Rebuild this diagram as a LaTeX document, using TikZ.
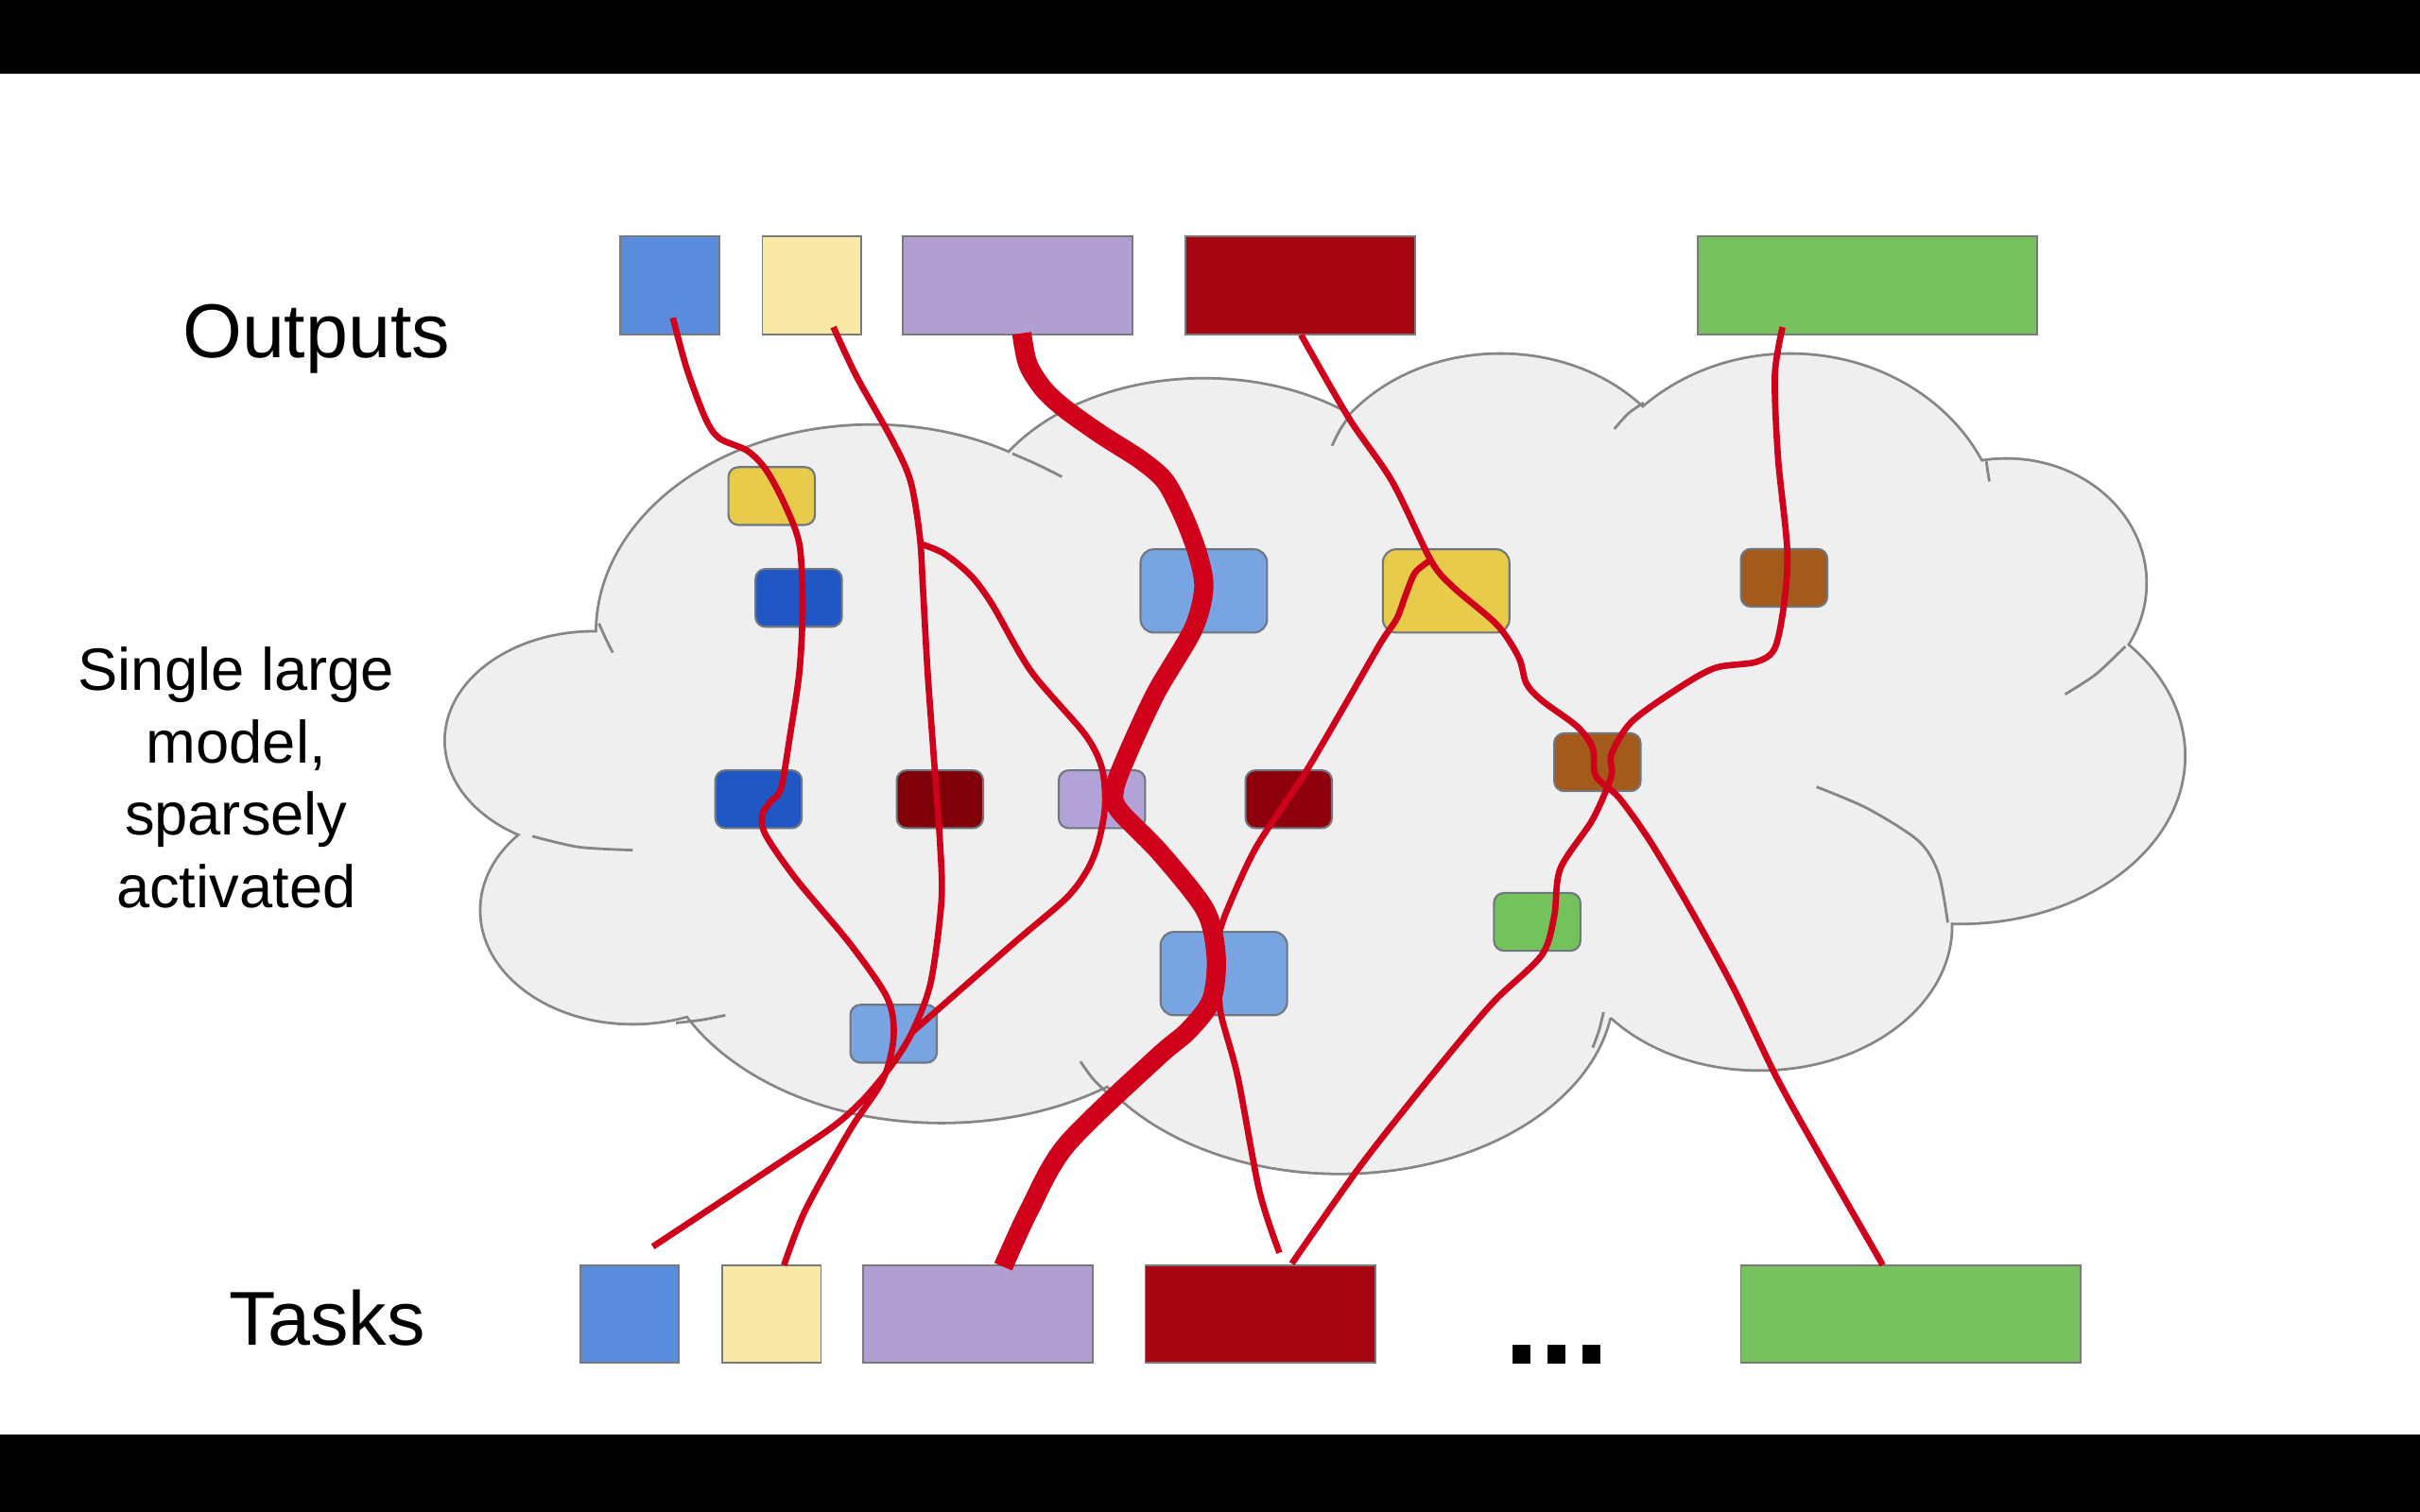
\documentclass[tikz,border=0pt]{standalone}
\usepackage{fontspec}
\setmainfont{Liberation Sans}
\usetikzlibrary{positioning, calc}

\newcommand{\pu}{0.0163265cm}

\definecolor{cBlue}{HTML}{5B8BDD}
\definecolor{cPale}{HTML}{F9E9A7}
\definecolor{cLav}{HTML}{B29FD1}
\definecolor{cRed}{HTML}{A60512}
\definecolor{cGreen}{HTML}{77C15E}
\definecolor{eGold}{HTML}{E8CB4B}
\definecolor{eNavy}{HTML}{2157C4}
\definecolor{eMaroon}{HTML}{7F0009}
\definecolor{eMaroonB}{HTML}{8F000D}
\definecolor{eLilac}{HTML}{B1A3D7}
\definecolor{eSky}{HTML}{78A4E2}
\definecolor{eBrown}{HTML}{A35A1B}
\definecolor{eLeaf}{HTML}{73C25B}
\definecolor{wire}{HTML}{D0021B}
\definecolor{boxgray}{HTML}{7A7A7A}
\definecolor{expgray}{HTML}{6F7780}
\definecolor{cloudfill}{HTML}{EEEFEE}
\definecolor{cloudedge}{HTML}{868686}

\tikzset{
  outbox/.style = {rectangle, draw=boxgray, line width=0.5pt, inner sep=0pt, outer sep=0pt, minimum width=64*\pu, minimum height=64*\pu},
  taskbox/.style = {outbox, minimum height=63*\pu},
  expert/.style = {rectangle, rounded corners=3pt, draw=expgray, line width=0.6pt, inner sep=0pt, minimum width=56*\pu, minimum height=37.5*\pu},
  bigexpert/.style = {expert, rounded corners=4pt, minimum width=82*\pu, minimum height=54*\pu},
  route/.style = {draw=wire, line width=1.9pt},
  heavy/.style = {route, line width=5.8pt},
  lobeedge/.style = {draw=cloudedge, line width=1.6pt},
  crease/.style = {draw=cloudedge, line width=0.8pt},
  caption/.style = {font=\fontsize{23}{27.6}\selectfont},
  sidetext/.style = {font=\fontsize{18}{21.8}\selectfont, align=center}
}

% cloud lobes
\newcommand{\cloudlobes}{
  (410,590) ellipse [x radius=98, y radius=73]
  (385,480) ellipse [x radius=96, y radius=70]
  (565,410) ellipse [x radius=178, y radius=134]
  (780,350) ellipse [x radius=150, y radius=104]
  (972,330) ellipse [x radius=122, y radius=100]
  (1160,352) ellipse [x radius=137, y radius=122]
  (1300,378) ellipse [x radius=90, y radius=80]
  (1270,490) ellipse [x radius=145, y radius=108]
  (1140,600) ellipse [x radius=124, y radius=93]
  (868,640) ellipse [x radius=177, y radius=120]
  (610,600) ellipse [x radius=185, y radius=127]
}

\begin{document}
\begin{tikzpicture}[x=\pu, y=-\pu]

\useasboundingbox (0,0) rectangle (1568,980);
\fill[white] (0,0) rectangle (1568,980);
\fill[black] (0,0) rectangle (1568,48);
\fill[black] (0,930) rectangle (1568,980);

% Cloud
\path[lobeedge] \cloudlobes;
\fill[cloudfill] \cloudlobes;
\fill[cloudfill] (395,415) -- (658,300) -- (874,278) -- (1065,268) -- (1283,305) -- (1370,422)
  -- (1258,594) -- (1035,662) -- (718,702) -- (445,656) -- (352,540) -- cycle;
\draw[crease] plot[smooth] coordinates {(388,404) (393,415) (397,423)};
\draw[crease] plot[smooth] coordinates {(345,542) (375,549) (410,551)};
\draw[crease] plot[smooth] coordinates {(438,663) (455,661) (470,658)};
\draw[crease] plot[smooth] coordinates {(656,294) (672,301) (688,309)};
\draw[crease] plot[smooth] coordinates {(874,270) (868,279) (863,289)};
\draw[crease] plot[smooth] coordinates {(1065,261) (1055,268) (1046,278)};
\draw[crease] plot[smooth] coordinates {(1287,299) (1288,306) (1289,312)};
\draw[crease] plot[smooth] coordinates {(1377,419) (1358,437) (1338,450)};
\draw[crease] plot[smooth] coordinates {(1177,510) (1210,524) (1243,545) (1256,566) (1262,598)};
\draw[crease] plot[smooth] coordinates {(1032,679) (1036,668) (1039,656)};
\draw[crease] plot[smooth] coordinates {(718,709) (708,699) (700,688)};

% Experts
\node[expert, fill=eGold] (eGoldA) at (500,321.5) {};
\node[expert, fill=eNavy] (eNavyA) at (517.5,387.5) {};
\node[expert, fill=eNavy] (eNavyB) at (491.5,518) {};
\node[expert, fill=eMaroon] (eMaroonA) at (609,518) {};
\node[expert, fill=eLilac] (eLilacA) at (714,518) {};
\node[expert, fill=eMaroonB] (eMaroonB) at (835,518) {};
\node[bigexpert, fill=eSky] (eSkyA) at (780,383) {};
\node[bigexpert, fill=eGold] (eGoldB) at (937,383) {};
\node[expert, fill=eBrown] (eBrownA) at (1156,374.5) {};
\node[expert, fill=eBrown] (eBrownB) at (1035,494) {};
\node[expert, fill=eLeaf] (eLeafA) at (996,597.5) {};
\node[bigexpert, fill=eSky] (eSkyB) at (793,631) {};
\node[expert, fill=eSky] (eSkyC) at (579,670) {};

% Outputs and tasks
\node[outbox, fill=cBlue] (oBlue) at (434,185) {};
\node[outbox, fill=cPale, right=0.457cm of oBlue] (oPale) {};
\node[outbox, fill=cLav, minimum width=149*\pu, right=0.441cm of oPale] (oLav) {};
\node[outbox, fill=cRed, minimum width=149*\pu, right=0.555cm of oLav] (oRed) {};
\node[outbox, fill=cGreen, minimum width=220*\pu, right=2.988cm of oRed] (oGreen) {};

\node[taskbox, fill=cBlue] (tBlue) at (408,851.5) {};
\node[taskbox, fill=cPale, right=0.457cm of tBlue] (tPale) {};
\node[taskbox, fill=cLav, minimum width=149*\pu, right=0.441cm of tPale] (tLav) {};
\node[taskbox, fill=cRed, minimum width=149*\pu, right=0.555cm of tLav] (tRed) {};
\node[taskbox, fill=cGreen, minimum width=220*\pu, right=3.869cm of tRed] (tGreen) {};

% Labels
\node[caption, anchor=base] (lblOut) at (205,232) {Outputs};
\node[caption, anchor=base] (lblTask) at (212,872) {Tasks};
\node[sidetext] (lblModel) at (153,504) {Single large\\model,\\sparsely\\activated};
\node[font=\fontsize{38}{40}\selectfont\bfseries, anchor=base] (lblMore) at (1009,884) {...};

% Wire ends
\coordinate (wBlueTop) at ($(oBlue.south)+(2,-11)$);
\coordinate (wPaleTop) at ($(oPale.south)+(14,-5)$);
\coordinate (wLavTop) at ($(oLav.south)+(2.5,-1)$);
\coordinate (wRedTop) at ($(oRed.south)+(0.5,0)$);
\coordinate (wGreenTop) at ($(oGreen.south)+(-55,-5)$);
\coordinate (wBlueEnd) at ($(tBlue.north)+(15,-12)$);
\coordinate (wPaleEnd) at ($(tPale.north)+(8,0)$);
\coordinate (wLavEnd) at ($(tLav.north)+(16.5,1)$);
\coordinate (wRedEndA) at ($(tRed.north)+(12.5,-8)$);
\coordinate (wRedEndB) at ($(tRed.north)+(20.5,-1)$);
\coordinate (wGreenEnd) at ($(tGreen.north)+(-18,0)$);
\coordinate (fork) at (598,353);
\coordinate (vtip) at (591,669);
\coordinate (merge) at (789,608);
\coordinate (corner) at (927,363);

% Routes
\draw[route] plot[smooth] coordinates {(wBlueTop) (445,239) (457,271) (466,284) (484,292) (496,304)
  (508,326) (518,353) (520,394) (518,435) (512,476) (506,511) (499,520) (494,528) (496,541)
  (516,570) (551,612) (575,647) (579,672) (572,700) (551,732) (522,784) (wPaleEnd)};
\draw[route] plot[smooth] coordinates {(wPaleTop) (555,244) (578,285) (590,312) (596,348) (598,381)
  (601,435) (605,490) (609,545) (610,584) (603,637) (vtip) (578,690) (560,712) (540,730)
  (500,757) (wBlueEnd)};
\draw[route] plot[smooth] coordinates {(fork) (612,359) (629,373) (643,392) (668,435) (703,476)
  (714,498) (716,522) (712,545) (705,563) (691,582) (656,612) (vtip)};
\draw[heavy] plot[smooth] coordinates {(wLavTop) (666,236) (676,252) (690,265) (714,282) (739,298)
  (755,312) (767,335) (776,359) (780,381) (773,408) (749,449) (730,490) (722,512) (725,525)
  (752,553) (781,590) (788,620) (785,648) (770,668) (749,686) (691,742) (667,784) (wLavEnd)};
\draw[route] plot[smooth] coordinates {(wRedTop) (874,271) (902,312) (corner) (941,380) (970,405)
  (984,426) (989,443) (999,454) (1022,471) (1032,485) (1034,503) (1049,517) (1069,545)
  (1094,587) (1123,640) (1152,700) (1185,759) (wGreenEnd)};
\draw[route] plot[smooth] coordinates {(wGreenTop) (1150,243) (1152,296) (1158,356) (1156,391)
  (1150,420) (1138,429) (1111,433) (1086,447) (1057,468) (1044,489) (1044,503) (1032,531)
  (1011,563) (1007,594) (999,619) (970,647) (949,671) (914,714) (879,759) (wRedEndB)};
\draw[route] plot[smooth] coordinates {(merge) (790,635) (791,657) (802,698) (816,772) (wRedEndA)};
\draw[route] plot[smooth] coordinates {(corner) (917,371) (911,385) (905,401) (895,416) (872,456)
  (845,502) (814,549) (795,590) (merge)};

\end{tikzpicture}
\end{document}
